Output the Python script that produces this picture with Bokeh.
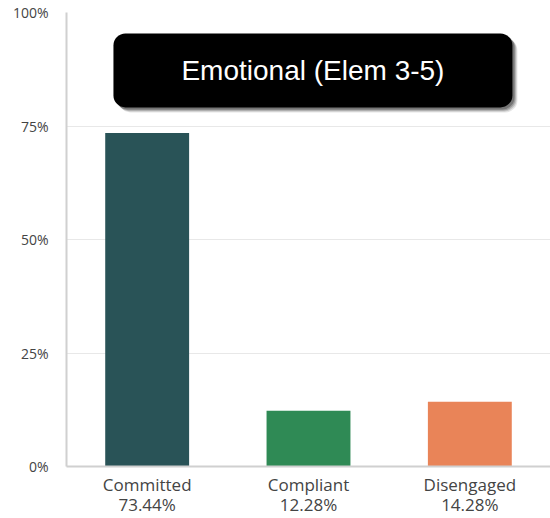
from bokeh.plotting import figure
from bokeh.models import (FactorRange, Range1d, FixedTicker, PrintfTickFormatter, BoxAnnotation, Label,
                          CustomJSTickFormatter)
from bokeh.embed import file_html
from bokeh.resources import INLINE

# Engagement breakdown
categories = ["Committed", "Compliant", "Disengaged"]
percentages = [73.44, 12.28, 14.28]
bar_colors = ["#295357", "#2f8a55", "#e98458"]
y_ticks = [0, 25, 50, 75, 100]
chart_title = "Emotional (Elem 3-5)"

p = figure(
    width=550, height=518,
    x_range=FactorRange(factors=categories, range_padding=0),
    y_range=Range1d(0, 100),
    output_backend="svg", toolbar_location=None,
    min_border_left=66, min_border_right=0, min_border_top=12, min_border_bottom=52,
)
p.outline_line_color = None
p.background_fill_color = "white"
p.border_fill_color = "white"

p.vbar(x=categories, top=percentages, width=0.52, color=bar_colors, line_color=None)

# Category labels carry each share on a second line
tick_text = {c: f"{c}\n{v:.2f}%" for c, v in zip(categories, percentages)}
p.xaxis.formatter = CustomJSTickFormatter(args=dict(labels=tick_text), code="return labels[tick]")

# Axes
p.yaxis.ticker = FixedTicker(ticks=y_ticks)
p.yaxis.formatter = PrintfTickFormatter(format="%d%%")
for ax in (p.xaxis[0], p.yaxis[0]):
    ax.major_tick_line_color = None
    ax.minor_tick_line_color = None
    ax.major_tick_out = 0
    ax.major_tick_in = 0
    ax.major_label_text_font = "Open Sans"
    ax.major_label_text_color = "#444444"
    ax.axis_line_color = "#d0d0d0"
    ax.axis_line_width = 2
p.yaxis.major_label_text_font_size = "14px"
p.yaxis.major_label_standoff = 18
p.xaxis.major_label_standoff = 6
p.xaxis.major_label_text_font_size = "17px"
p.xaxis.major_label_text_line_height = 0.88

p.xgrid.grid_line_color = None
p.ygrid.grid_line_color = "#e8e8e8"
p.ygrid.grid_line_width = 1

# Title badge with a soft drop shadow
bx0, bx1, by0, by1 = 0.291, 2.764, 79.1, 95.4
dx, dy = 1 / 161.3, 100 / 454
for off, alpha in [(5, 0.10), (4, 0.15), (3, 0.2), (2, 0.25)]:
    p.add_layout(BoxAnnotation(
        left=bx0 + off * dx, right=bx1 + off * dx,
        bottom=by0 - off * dy, top=by1 - off * dy,
        fill_color="black", fill_alpha=alpha, line_color=None, border_radius=12,
    ))
p.add_layout(BoxAnnotation(
    left=bx0, right=bx1, bottom=by0, top=by1,
    fill_color="black", fill_alpha=1.0, line_color=None, border_radius=12,
))
p.add_layout(Label(
    x=(bx0 + bx1) / 2, y=(by0 + by1) / 2, text=chart_title,
    text_align="center", text_baseline="middle",
    text_color="white", text_font="Liberation Sans", text_font_size="28px",
))

open("out.html", "w").write(file_html(p, INLINE))
